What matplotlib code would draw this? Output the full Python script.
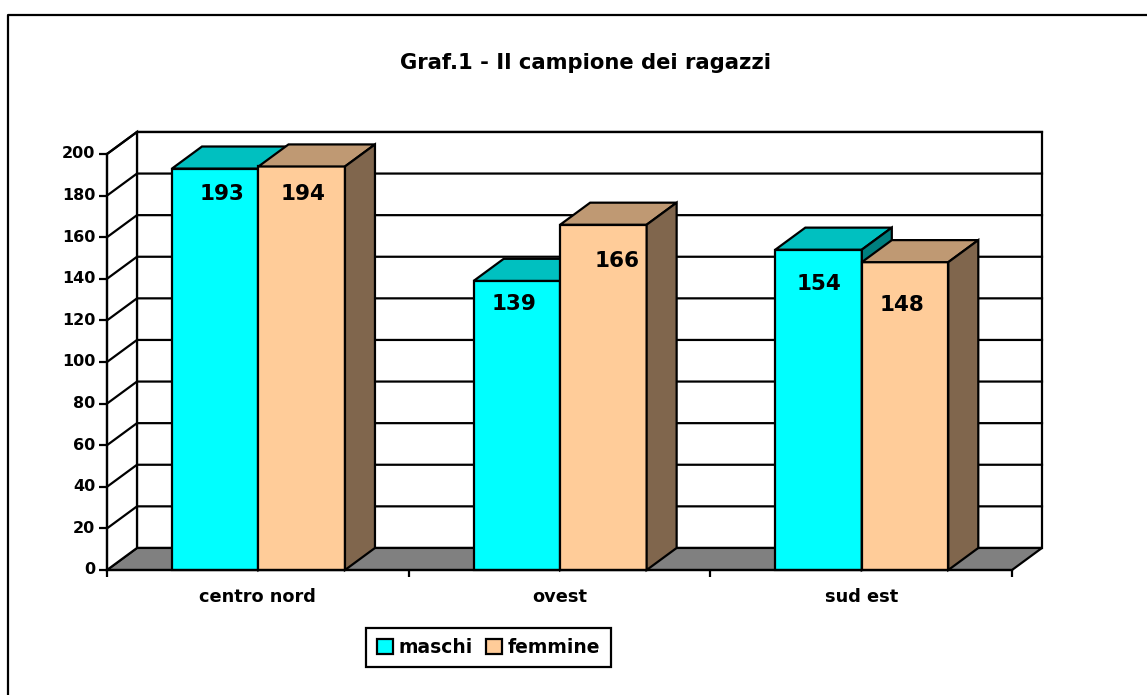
import matplotlib

matplotlib.use("Agg")
import matplotlib.pyplot as plt
from matplotlib.lines import Line2D
from matplotlib.patches import Patch, Polygon

categories = ["centro nord", "ovest", "sud est"]
maschi = [193, 139, 154]
femmine = [194, 166, 148]
y_ticks = list(range(0, 201, 20))

W, H = 1147, 695
DX, DY = 0.0994, 10.6  # depth of the fake 3d box, in data units
BAR_W = 0.2867
GAP = 0.2155
LW = 1.6

CYAN = ("#00FFFF", "#00C0C0", "#008080")
PEACH = ("#FFCC99", "#BF9973", "#80664D")

# label nudges from the bar's top centre, in points
maschi_off = [(5, -18), (-2, -17), (0, -25)]
femmine_off = [(1, -20), (10, -26), (-2, -31)]

plt.rcParams["font.family"] = ["DejaVu Sans"]
plt.rcParams["font.weight"] = "bold"

fig = plt.figure(figsize=(W / 100, H / 100), dpi=100)
ax = fig.add_axes([107 / W, (H - 570) / H, 905 / W, 416 / H])
ax.set_xlim(0, 3)
ax.set_ylim(0, 200)
ax.patch.set_alpha(0)


def poly(points, color, z):
    ax.add_patch(Polygon(points, closed=True, facecolor=color, edgecolor="black",
                         linewidth=LW, joinstyle="miter", clip_on=False, zorder=z))


def draw_bar(left, value, colors, z):
    right = left + BAR_W
    poly([(left, 0), (right, 0), (right, value), (left, value)], colors[0], z)
    poly([(left, value), (right, value), (right + DX, value + DY), (left + DX, value + DY)], colors[1], z)
    poly([(right, 0), (right + DX, DY), (right + DX, value + DY), (right, value)], colors[2], z)


# back wall and floor
poly([(DX, DY), (3 + DX, DY), (3 + DX, 200 + DY), (DX, 200 + DY)], "white", 1)
poly([(0, 0), (3, 0), (3 + DX, DY), (DX, DY)], "#808080", 1.5)
poly([(0, 0), (DX, DY), (DX, 200 + DY), (0, 200)], "white", 1.5)

for t in y_ticks[1:]:
    ax.plot([0, DX, 3 + DX], [t, t + DY, t + DY], color="black", lw=LW, clip_on=False, zorder=2)

for i in range(len(categories)):
    left = i + GAP
    draw_bar(left, maschi[i], CYAN, 3 + i)
    draw_bar(left + BAR_W, femmine[i], PEACH, 3.5 + i)
    ax.annotate(str(maschi[i]), (left + BAR_W / 2, maschi[i]), xytext=maschi_off[i],
                textcoords="offset points", ha="center", va="center", fontsize=15.5,
                fontweight="bold", zorder=10)
    ax.annotate(str(femmine[i]), (left + BAR_W * 1.5, femmine[i]), xytext=femmine_off[i],
                textcoords="offset points", ha="center", va="center", fontsize=15.5,
                fontweight="bold", zorder=10)

for side in ["top", "right"]:
    ax.spines[side].set_visible(False)
for side in ["left", "bottom"]:
    ax.spines[side].set_linewidth(LW)
    ax.spines[side].set_zorder(9)

ax.set_yticks(y_ticks)
ax.tick_params(axis="y", length=6, width=LW, labelsize=11.5, pad=2.5)
for lab in ax.get_yticklabels():
    lab.set_verticalalignment("center")
    lab.set_y(lab.get_position()[1])
ax.set_xticks([0, 1, 2, 3])
ax.set_xticklabels([])
ax.tick_params(axis="x", which="major", length=5, width=LW)
ax.set_xticks([0.5, 1.5, 2.5], minor=True)
ax.set_xticklabels(categories, minor=True, fontsize=12.8, fontweight="bold")
ax.tick_params(axis="x", which="minor", length=0, pad=13)

fig.text(585 / W, 1 - 63 / H, "Graf.1 - Il campione dei ragazzi", ha="center", va="center",
         fontsize=15.2, fontweight="bold")

# outer frame, only left and top edges are in the picture
fig.add_artist(Line2D([8 / W, 8 / W, 1], [0, 1 - 14.5 / H, 1 - 14.5 / H], color="black", lw=LW))

handles = [Patch(facecolor=CYAN[0], edgecolor="black", linewidth=LW, label="maschi"),
           Patch(facecolor=PEACH[0], edgecolor="black", linewidth=LW, label="femmine")]
leg = fig.legend(handles=handles, loc="center", bbox_to_anchor=(488.5 / W, 1 - 647.5 / H), ncol=2,
                 frameon=True, fancybox=False, edgecolor="black", framealpha=1,
                 prop={"size": 13.5, "weight": "bold"}, handlelength=0.85, handleheight=0.85,
                 handletextpad=0.32, columnspacing=0.7, borderpad=0.55, borderaxespad=0)
leg.get_frame().set_linewidth(LW)

fig.savefig("out.png", dpi=100)
